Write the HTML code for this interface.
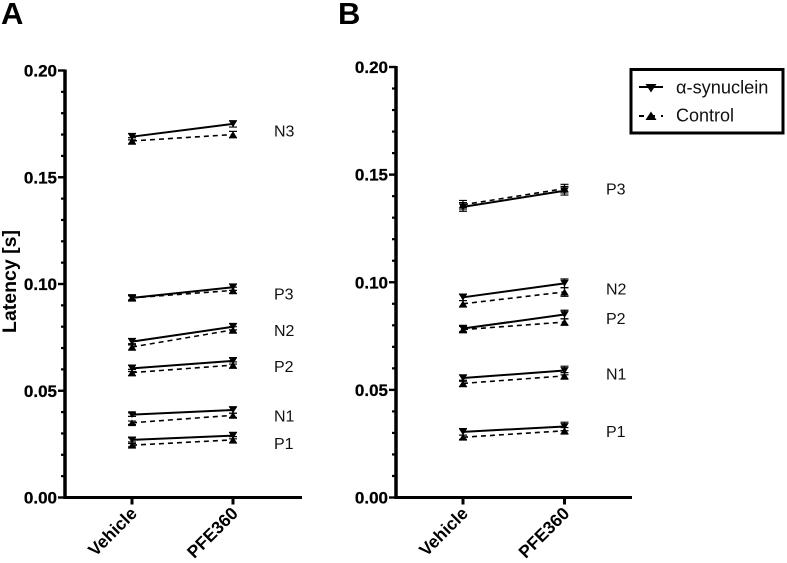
<!DOCTYPE html>
<html lang="en">
<head>
<meta charset="utf-8">
<title>Latency chart</title>
<style>
html,body{margin:0;padding:0;background:#fff;}
svg{display:block;font-family:"Liberation Sans",sans-serif;}
</style>
</head>
<body>
<svg id="chart" xmlns="http://www.w3.org/2000/svg" width="787" height="563" viewBox="0 0 787 563"></svg>
<script>
const categories = ['Vehicle', 'PFE360'];
const yTicks = [0, 0.05, 0.10, 0.15, 0.20];
const yTickLabels = ['0.00', '0.05', '0.10', '0.15', '0.20'];
const yMinorTicks = [0.01, 0.02, 0.03, 0.04, 0.06, 0.07, 0.08, 0.09, 0.11, 0.12, 0.13, 0.14, 0.16, 0.17, 0.18, 0.19];

const panelAWaves = ['N3', 'P3', 'N2', 'P2', 'N1', 'P1'];
const panelASynuclein = [[0.169, 0.175], [0.0935, 0.0985], [0.073, 0.080], [0.0605, 0.064], [0.0388, 0.041], [0.027, 0.029]];
const panelAControl = [[0.167, 0.170], [0.0935, 0.097], [0.0705, 0.0785], [0.0585, 0.062], [0.035, 0.0385], [0.0245, 0.027]];
const panelASynucleinErr = [[0.0015, 0.0015], [0.001, 0.0015], [0.0015, 0.0015], [0.0015, 0.0015], [0.0008, 0.0015], [0.001, 0.0015]];
const panelAControlErr = [[0.0015, 0.0015], [0.0015, 0.0015], [0.0015, 0.0015], [0.0015, 0.0015], [0.0008, 0.001], [0.0008, 0.0015]];
const panelALabelValues = [0.172, 0.0955, 0.0785, 0.0615, 0.0385, 0.0255];

const panelBWaves = ['P3', 'N2', 'P2', 'N1', 'P1'];
const panelBSynuclein = [[0.135, 0.1425], [0.093, 0.0995], [0.0785, 0.085], [0.0555, 0.059], [0.0305, 0.033]];
const panelBControl = [[0.136, 0.1435], [0.090, 0.0955], [0.078, 0.0815], [0.053, 0.0565], [0.028, 0.031]];
const panelBSynucleinErr = [[0.002, 0.002], [0.0015, 0.002], [0.0015, 0.002], [0.0015, 0.002], [0.0015, 0.002]];
const panelBControlErr = [[0.002, 0.002], [0.0015, 0.002], [0.0015, 0.0015], [0.0015, 0.0015], [0.001, 0.0015]];
const panelBLabelValues = [0.1435, 0.097, 0.0835, 0.0575, 0.031];

const NS = 'http://www.w3.org/2000/svg';
const svg = document.getElementById('chart');

function add(parent, tag, attrs) {
  const el = document.createElementNS(NS, tag);
  for (const k in attrs) el.setAttribute(k, attrs[k]);
  parent.appendChild(el);
  return el;
}

function drawPanel(cfg) {
  const g = add(svg, 'g', {});
  
  
  const yScale = v => cfg.y0 + (cfg.y20 - cfg.y0) * (v / 0.2);
  const xScale = i => cfg.xCat0 + i * (cfg.xCat1 - cfg.xCat0);

  const letter = add(g, 'text', {x: cfg.letterX, y: 24, 'font-size': 31, 'font-weight': 'bold', fill: '#000'});
  letter.textContent = cfg.letter;
  
  

  const yAxis = add(g, 'line', {x1: cfg.xAxis, x2: cfg.xAxis, y1: yScale(0.2) - 1, y2: cfg.y0 + 1.5, stroke: '#000', 'stroke-width': 3.5});
  
  
  const xAxis = add(g, 'line', {x1: cfg.xAxis - 1.5, x2: cfg.xEnd, y1: cfg.y0, y2: cfg.y0, stroke: '#000', 'stroke-width': 3});
  
  

  yTicks.forEach((v, i) => {
    const t = add(g, 'line', {x1: cfg.xAxis - 7, x2: cfg.xAxis, y1: yScale(v), y2: yScale(v), stroke: '#000', 'stroke-width': 2.4});
    
    
    const l = add(g, 'text', {x: cfg.xAxis - 8, y: yScale(v) + 6, 'text-anchor': 'end', 'font-size': 17, 'font-weight': 'bold', fill: '#000', stroke: '#000', 'stroke-width': 0.25});
    l.textContent = yTickLabels[i];
    
    
  });
  yMinorTicks.forEach(v => {
    const t = add(g, 'line', {x1: cfg.xAxis - 4, x2: cfg.xAxis, y1: yScale(v), y2: yScale(v), stroke: '#000', 'stroke-width': 2.2});
    
    
  });

  categories.forEach((c, i) => {
    const x = xScale(i);
    const t = add(g, 'line', {x1: x, x2: x, y1: cfg.y0, y2: cfg.y0 + 7, stroke: '#000', 'stroke-width': 3});
    
    
    const l = add(g, 'text', {transform: 'translate(' + (x + 6) + ' ' + (cfg.y0 + 17) + ') rotate(-45)', 'text-anchor': 'end', 'font-size': 17.5, 'font-weight': 'bold', fill: '#000'});
    l.textContent = c;
    
    
  });

  const drawSeries = (vals, errs, dashed, down, name) => {
    const line = add(g, 'line', {x1: xScale(0), y1: yScale(vals[0]), x2: xScale(1), y2: yScale(vals[1]), stroke: '#000', 'stroke-width': dashed ? 1.6 : 2});
    if (dashed) line.setAttribute('stroke-dasharray', '5 4');
    
    
    vals.forEach((v, i) => {
      const x = xScale(i), y = yScale(v), top = yScale(v + errs[i]), bot = yScale(v - errs[i]);
      const e = add(g, 'path', {d: 'M' + (x - 4) + ' ' + top + 'H' + (x + 4) + 'M' + x + ' ' + top + 'V' + bot + 'M' + (x - 4) + ' ' + bot + 'H' + (x + 4), stroke: '#000', 'stroke-width': 1.2, fill: 'none'});
      
      
      const pts = down
        ? [[x - 4.2, y - 3.4], [x + 4.2, y - 3.4], [x, y + 3.4]]
        : [[x - 4.2, y + 3.4], [x + 4.2, y + 3.4], [x, y - 3.4]];
      const m = add(g, 'polygon', {points: pts.map(p => p.join(',')).join(' '), fill: '#000'});
      
      
    });
  };

  cfg.waves.forEach((w, i) => {
    drawSeries(cfg.control[i], cfg.controlErr[i], true, false, w.toLowerCase() + '-control');
    drawSeries(cfg.synuclein[i], cfg.synucleinErr[i], false, true, w.toLowerCase() + '-synuclein');
    const l = add(g, 'text', {x: cfg.labelX, y: yScale(cfg.labelValues[i]) + 6, 'font-size': 16, fill: '#111'});
    l.textContent = w;
    
    
  });
}

drawPanel({id: 'a', letter: 'A', letterX: 1, xAxis: 65, xEnd: 302, y0: 497.5, y20: 70.5, xCat0: 132, xCat1: 233, labelX: 274,
  waves: panelAWaves, synuclein: panelASynuclein, control: panelAControl, synucleinErr: panelASynucleinErr, controlErr: panelAControlErr, labelValues: panelALabelValues});
drawPanel({id: 'b', letter: 'B', letterX: 338, xAxis: 396, xEnd: 632, y0: 497.5, y20: 67, xCat0: 463, xCat1: 564.5, labelX: 606,
  waves: panelBWaves, synuclein: panelBSynuclein, control: panelBControl, synucleinErr: panelBSynucleinErr, controlErr: panelBControlErr, labelValues: panelBLabelValues});

const yTitle = add(svg, 'text', {transform: 'translate(16 281.5) rotate(-90)', 'text-anchor': 'middle', 'font-size': 19.5, 'font-weight': 'bold', fill: '#000'});
yTitle.textContent = 'Latency [s]';



const legend = add(svg, 'g', {});


const box = add(legend, 'rect', {x: 631, y: 69.5, width: 152, height: 63.5, fill: '#fff', stroke: '#000', 'stroke-width': 3});


const l1 = add(legend, 'line', {x1: 639, x2: 663, y1: 87, y2: 87, stroke: '#000', 'stroke-width': 2});


const m1 = add(legend, 'polygon', {points: '645.5,84 656.5,84 651,92.5', fill: '#000'});


const l2 = add(legend, 'line', {x1: 639, x2: 663, y1: 116, y2: 116, stroke: '#000', 'stroke-width': 2, 'stroke-dasharray': '5 6'});


const m2 = add(legend, 'polygon', {points: '645.5,120 656.5,120 651,111.5', fill: '#000'});


const t1 = add(legend, 'text', {x: 676, y: 93.5, 'font-size': 18.2, fill: '#111'});
t1.textContent = 'α-synuclein';


const t2 = add(legend, 'text', {x: 676, y: 121.5, 'font-size': 18, fill: '#111'});
t2.textContent = 'Control';


</script>
</body>
</html>
